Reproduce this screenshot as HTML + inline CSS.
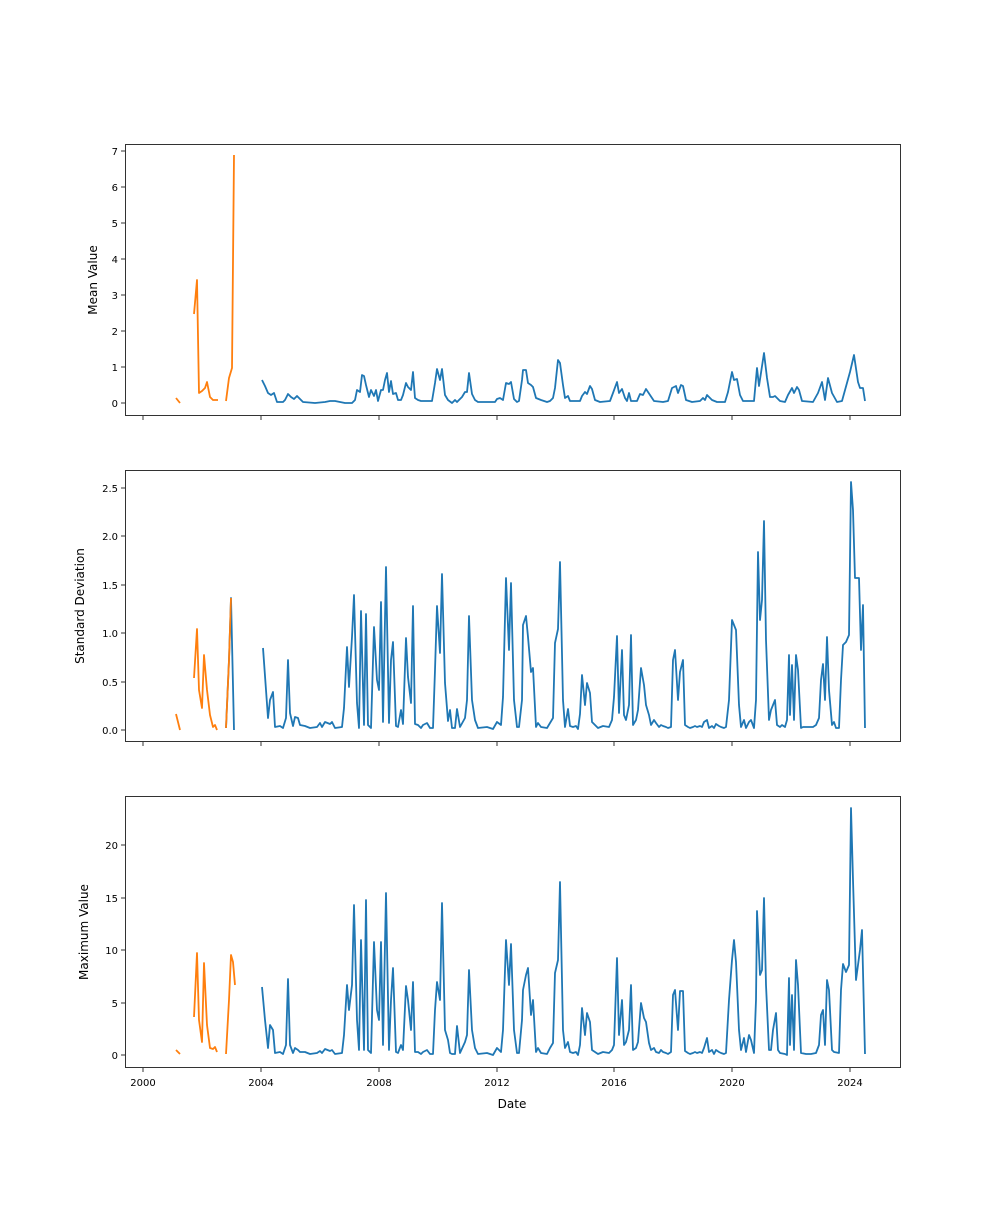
<!DOCTYPE html>
<html><head><meta charset="utf-8"><style>
body{margin:0;background:#fff;}
svg text{font-family:"DejaVu Sans","Liberation Sans",sans-serif;font-size:10px;fill:#000;}
.b{fill:none;stroke:#1f77b4;stroke-width:1.8;stroke-linejoin:round;}
.o{fill:none;stroke:#ff7f0e;stroke-width:1.8;stroke-linejoin:round;}
.ax{fill:none;stroke:#000;stroke-width:0.8;}
.t{stroke:#000;stroke-width:0.8;}
</style></head><body>
<svg width="1000" height="1200" xmlns="http://www.w3.org/2000/svg">
<!-- TOP -->
<rect class="ax" x="125.5" y="144.5" width="775" height="271"/>
<g class="t">
<line x1="121" x2="125" y1="403" y2="403"/><line x1="121" x2="125" y1="367" y2="367"/><line x1="121" x2="125" y1="331" y2="331"/><line x1="121" x2="125" y1="295" y2="295"/><line x1="121" x2="125" y1="259" y2="259"/><line x1="121" x2="125" y1="223" y2="223"/><line x1="121" x2="125" y1="187" y2="187"/><line x1="121" x2="125" y1="151" y2="151"/>
<line x1="143" x2="143" y1="416" y2="420"/><line x1="261" x2="261" y1="416" y2="420"/><line x1="379" x2="379" y1="416" y2="420"/><line x1="497" x2="497" y1="416" y2="420"/><line x1="614" x2="614" y1="416" y2="420"/><line x1="732" x2="732" y1="416" y2="420"/><line x1="850" x2="850" y1="416" y2="420"/>
</g>
<g text-anchor="end">
<text x="118" y="407">0</text><text x="118" y="371">1</text><text x="118" y="335">2</text><text x="118" y="299">3</text><text x="118" y="263">4</text><text x="118" y="227">5</text><text x="118" y="191">6</text><text x="118" y="155">7</text>
</g>
<text transform="translate(97,280) rotate(-90)" text-anchor="middle" style="font-size:12px">Mean Value</text>
<polyline class="o" points="176,398 180,403"/>
<polyline class="o" points="194,314 197,280 199,393 202,391 205,388 207,382 210,397 213,400 218,400"/>
<polyline class="o" points="226,401 229,378 232,368 234,155"/>
<polyline class="b" points="262,380 265,386 268,393 271,395 274,393 277,402 283,402 285,400 288,394 291,397 294,399 297,396 300,399 303,402 315,403 325,402 330,401 335,401 340,402 345,403 352,403 355,400 357,390 360,392 362,375 364,376 366,385 369,397 371,390 374,396 376,390 378,401 381,390 383,390 385,380 387,373 389,392 391,381 393,394 396,393 398,400 401,400 403,395 406,383 408,387 411,390 413,372 415,398 418,400 421,401 428,401 432,401 435,383 437,369 440,380 442,369 445,395 448,400 452,403 455,400 457,402 460,399 462,397 465,392 467,392 469,373 472,394 475,400 478,402 495,402 497,399 500,398 503,400 506,383 509,384 511,382 514,399 517,402 519,401 522,380 523,370 526,370 528,383 531,385 533,387 536,398 541,400 547,402 550,401 553,398 555,388 558,360 560,363 563,385 565,398 568,396 570,401 575,401 580,401 582,396 585,392 587,394 590,386 592,389 595,400 600,402 610,401 613,393 617,382 619,393 622,389 625,398 627,401 629,393 631,401 637,401 640,394 643,395 646,389 650,395 654,401 663,402 668,401 672,388 676,386 678,393 681,385 683,386 686,400 692,402 700,401 703,398 705,400 707,395 712,400 717,402 725,402 728,392 732,372 734,380 737,379 740,395 743,401 752,401 754,401 757,368 759,386 764,353 767,378 770,397 773,397 775,396 780,401 785,402 788,395 792,388 794,393 797,387 799,390 802,401 813,402 818,393 822,382 825,400 828,378 832,393 837,402 842,401 850,372 854,355 858,382 860,388 863,388 865,401"/>

<!-- MIDDLE -->
<rect class="ax" x="125.5" y="470.5" width="775" height="271"/>
<g class="t">
<line x1="121" x2="125" y1="730" y2="730"/><line x1="121" x2="125" y1="682" y2="682"/><line x1="121" x2="125" y1="633" y2="633"/><line x1="121" x2="125" y1="585" y2="585"/><line x1="121" x2="125" y1="536" y2="536"/><line x1="121" x2="125" y1="488" y2="488"/>
<line x1="143" x2="143" y1="742" y2="746"/><line x1="261" x2="261" y1="742" y2="746"/><line x1="379" x2="379" y1="742" y2="746"/><line x1="497" x2="497" y1="742" y2="746"/><line x1="614" x2="614" y1="742" y2="746"/><line x1="732" x2="732" y1="742" y2="746"/><line x1="850" x2="850" y1="742" y2="746"/>
</g>
<g text-anchor="end">
<text x="118" y="734">0.0</text><text x="118" y="686">0.5</text><text x="118" y="637">1.0</text><text x="118" y="589">1.5</text><text x="118" y="540">2.0</text><text x="118" y="492">2.5</text>
</g>
<text transform="translate(84,606) rotate(-90)" text-anchor="middle" style="font-size:12px">Standard Deviation</text>
<polyline class="o" points="176,714 180,730"/>
<polyline class="o" points="194,678 197,629 199,690 202,708 204,655 207,690 210,715 213,727 215,725 217,730"/>
<polyline class="b" points="226,728 229,660 231,598 234,730"/>
<polyline class="o" points="226,728 229,660 231,598"/>
<polyline class="b" points="263,648 268,718 270,700 273,692 275,727 280,726 283,728 286,718 288,660 290,713 293,726 295,717 298,718 300,725 305,726 310,728 317,727 320,723 322,727 325,722 330,724 332,722 335,728 342,727 344,708 347,647 349,687 352,637 354,595 357,703 359,728 361,611 364,725 366,614 368,725 371,728 374,627 377,680 379,690 381,602 383,722 386,567 389,723 391,660 393,642 396,726 398,727 401,710 403,724 406,638 408,677 411,703 413,606 415,724 418,725 421,728 423,725 427,723 430,728 433,728 435,670 437,606 440,653 442,574 445,683 448,721 450,710 452,728 455,728 457,709 460,727 465,718 467,700 469,616 472,700 475,720 478,728 487,727 493,729 497,722 501,725 503,697 506,578 509,650 511,583 514,700 517,727 519,727 522,700 523,625 526,616 528,637 531,672 533,668 536,727 538,723 541,727 547,728 550,723 553,718 555,643 558,629 560,562 563,700 565,727 568,709 570,726 573,727 576,726 578,729 580,714 582,675 585,705 587,683 590,693 592,722 598,728 603,726 609,727 612,720 614,697 617,636 619,713 622,650 624,715 626,720 629,705 631,635 633,725 636,720 638,710 641,668 644,685 646,705 649,715 651,725 654,720 656,723 659,727 661,725 663,726 666,727 668,728 671,727 673,660 675,650 678,700 680,672 683,660 685,725 688,727 690,728 693,727 695,726 697,727 700,726 702,727 704,722 707,720 709,728 712,726 714,728 716,724 719,726 721,727 724,728 726,727 729,700 732,620 734,625 736,630 739,705 741,727 744,720 746,728 749,722 751,720 754,728 756,700 758,552 760,620 762,600 764,521 766,640 769,720 771,710 773,705 775,700 777,725 780,727 782,725 785,727 787,720 789,655 790,715 792,665 794,720 796,655 798,670 801,728 803,727 806,727 808,727 811,727 813,727 816,725 819,718 821,680 823,664 825,700 827,637 829,690 832,725 834,722 836,728 839,728 841,680 843,645 846,642 849,635 851,482 853,510 855,578 857,578 859,578 861,650 863,605 865,728"/>

<!-- BOTTOM -->
<rect class="ax" x="125.5" y="796.5" width="775" height="271"/>
<g class="t">
<line x1="121" x2="125" y1="1055" y2="1055"/><line x1="121" x2="125" y1="1003" y2="1003"/><line x1="121" x2="125" y1="950" y2="950"/><line x1="121" x2="125" y1="898" y2="898"/><line x1="121" x2="125" y1="845" y2="845"/>
<line x1="143" x2="143" y1="1068" y2="1072"/><line x1="261" x2="261" y1="1068" y2="1072"/><line x1="379" x2="379" y1="1068" y2="1072"/><line x1="497" x2="497" y1="1068" y2="1072"/><line x1="614" x2="614" y1="1068" y2="1072"/><line x1="732" x2="732" y1="1068" y2="1072"/><line x1="850" x2="850" y1="1068" y2="1072"/>
</g>
<g text-anchor="end">
<text x="118" y="1059">0</text><text x="118" y="1007">5</text><text x="118" y="954">10</text><text x="118" y="902">15</text><text x="118" y="849">20</text>
</g>
<g text-anchor="middle">
<text x="143" y="1086">2000</text><text x="261" y="1086">2004</text><text x="379" y="1086">2008</text><text x="497" y="1086">2012</text><text x="614" y="1086">2016</text><text x="732" y="1086">2020</text><text x="850" y="1086">2024</text>
<text x="512" y="1108" style="font-size:12px">Date</text>
</g>
<text transform="translate(88,932) rotate(-90)" text-anchor="middle" style="font-size:12px">Maximum Value</text>
<polyline class="o" points="176,1050 180,1054"/>
<polyline class="o" points="194,1017 197,953 199,1020 202,1042 204,963 207,1025 210,1048 213,1049 215,1047 217,1052"/>
<polyline class="o" points="226,1054 229,1000 231,955 233,962 235,985"/>
<polyline class="b" points="262,987 265,1020 268,1048 270,1025 273,1030 275,1053 280,1052 283,1054 286,1045 288,979 290,1045 293,1053 295,1048 298,1050 300,1052 305,1052 310,1054 317,1053 320,1051 322,1053 325,1049 330,1051 332,1050 335,1054 342,1053 344,1035 347,985 349,1010 352,985 354,905 357,1020 359,1050 361,940 364,1050 366,900 368,1050 371,1053 374,942 377,1010 379,1020 381,942 383,1045 386,893 389,1050 391,1000 393,968 396,1052 398,1053 401,1045 403,1050 406,986 408,1000 411,1030 413,982 415,1052 418,1052 421,1054 423,1052 427,1050 430,1054 433,1054 435,1010 437,982 440,1000 442,903 445,1030 448,1040 450,1053 452,1054 455,1054 457,1026 460,1053 465,1042 467,1035 469,970 472,1030 475,1048 478,1054 487,1053 493,1055 497,1048 501,1052 503,1030 506,940 509,985 511,944 514,1030 517,1053 519,1053 522,1020 523,990 526,975 528,968 531,1015 533,1000 536,1052 538,1048 541,1053 547,1054 550,1048 553,1043 555,973 558,960 560,882 563,1030 565,1048 568,1042 570,1052 573,1053 576,1052 578,1055 580,1045 582,1008 585,1035 587,1013 590,1022 592,1050 598,1054 603,1052 609,1053 612,1050 614,1045 617,958 619,1035 622,1000 624,1045 626,1042 629,1030 631,985 633,1050 636,1048 638,1042 641,1003 644,1018 646,1022 649,1043 651,1050 654,1048 656,1052 659,1053 661,1050 663,1052 666,1053 668,1054 671,1052 673,995 675,990 678,1030 680,991 683,991 685,1051 688,1053 690,1054 693,1053 695,1052 697,1053 700,1052 702,1053 704,1048 707,1038 709,1052 712,1050 714,1054 716,1050 719,1052 721,1053 724,1054 726,1053 729,1000 732,960 734,940 736,962 739,1030 741,1050 744,1038 746,1052 749,1035 751,1040 754,1053 756,1000 757,911 760,975 762,970 764,898 766,985 769,1050 771,1050 773,1030 776,1013 778,1050 780,1053 785,1054 787,1055 789,978 790,1045 792,995 794,1050 796,960 798,985 801,1053 806,1054 811,1054 816,1053 819,1045 821,1015 823,1010 825,1045 827,980 829,990 832,1050 834,1052 839,1053 841,990 843,964 846,972 849,965 851,808 853,880 856,980 858,965 860,950 862,930 865,1054"/>
</svg>
</body></html>
